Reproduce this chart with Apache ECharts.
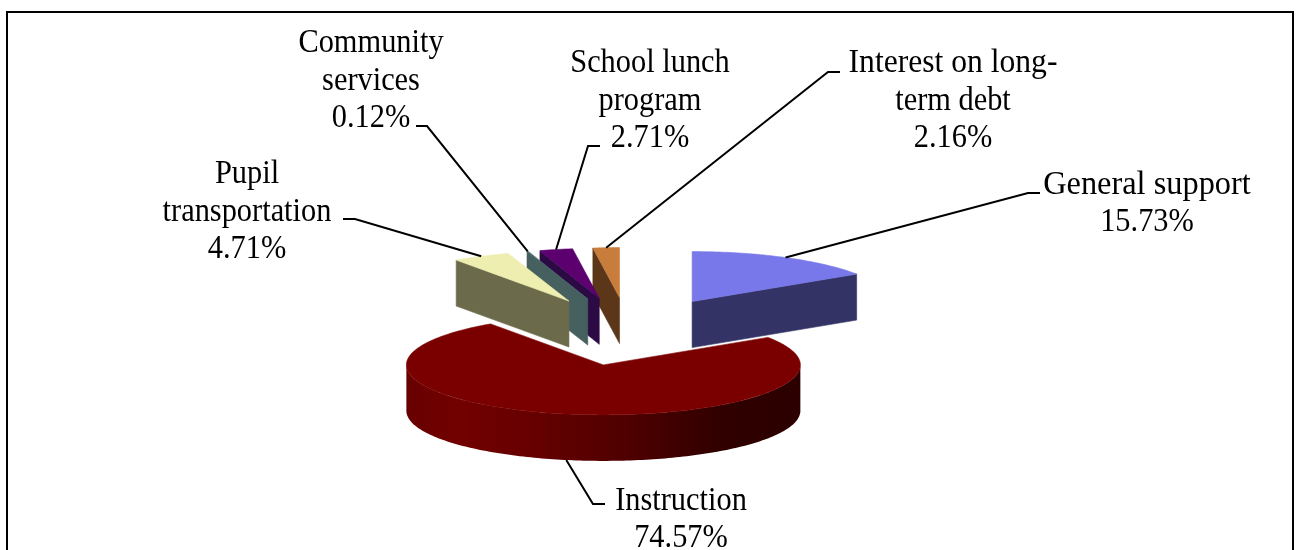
<!DOCTYPE html>
<html><head><meta charset="utf-8">
<style>html,body{margin:0;padding:0;background:#fff}#c{width:1299px;height:550px}</style>
<script src="https://cdn.jsdelivr.net/npm/echarts@6/dist/echarts.min.js"></script>
</head><body><div id="c"></div>
<script>
// ---- data (clockwise from 12 o'clock) ----
const categories = ['General support','Instruction','Pupil transportation','Community services','School lunch program','Interest on long-term debt'];
const shares = [15.73, 74.57, 4.71, 0.12, 2.71, 2.16];
const labelLines = [
  ['General support','15.73%'],
  ['Instruction','74.57%'],
  ['Pupil','transportation','4.71%'],
  ['Community','services','0.12%'],
  ['School lunch','program','2.71%'],
  ['Interest on long-','term debt','2.16%']
];
// ---- styles ----
const topColors  = ['#7878ea','#7a0000','#eeeeb0','#4a6a6a','#5c0070','#c87d3c'];
const sideColors = ['#333366','#6e0000','#6b6b4b','#466060','#2c0a44','#5c3618'];
const paintOrder = [0,5,4,3,2,1];          // back to front
// ---- layout ----
const CX=628.6, CY=331.5, RX=197, RY=50, DEPTH=46, EXPLODE=0.68;
const labelPos = [[1147,203],[681,519],[247,211],[371,80],[650,100],[953,100]];
const labelStretch = {'General support':1.065,'Interest on long-':1.04};
const leaderElbow = [[[1028,193],[1040,193]],[[593,504],[605,504]],[[355,219],[343,219]],[[427,126],[416,126]],[[588,146],[600,146]],[[828,72],[840,72]]];

const total = shares.reduce((a,b)=>a+b,0);
let acc = 0;
const slices = shares.map(v=>{const s=acc/total*2*Math.PI; acc+=v; return {s,e:acc/total*2*Math.PI};});
const proj=(c,t,r=1)=>[c[0]+RX*r*Math.sin(t), c[1]-RY*r*Math.cos(t)];
const down=p=>[p[0],p[1]+DEPTH];
function arc(c,a,b){const n=Math.max(2,Math.ceil((b-a)/0.02));const o=[];for(let i=0;i<=n;i++)o.push(proj(c,a+(b-a)*i/n));return o;}

function renderSlice(params,api){
  const i=api.value(2), z=paintOrder.indexOf(i)*10+1, {s,e}=slices[i], m=(s+e)/2;
  const apex=proj([CX,CY],m,EXPLODE), kids=[];
  const poly=(points,fill,dz)=>kids.push({type:'polygon',z2:z+dz,shape:{points},style:{fill,stroke:fill,lineWidth:0.6}});
  if(Math.sin(s)<0){const p=proj(apex,s);poly([apex,p,down(p),down(apex)],sideColors[i],0);}
  if(Math.sin(e)>0){const p=proj(apex,e);poly([apex,p,down(p),down(apex)],sideColors[i],0);}
  const a=Math.max(s,Math.PI/2), b=Math.min(e,3*Math.PI/2);
  if(b>a){
    const top=arc(apex,a,b);
    kids.push({type:'polygon',z2:z+1,shape:{points:top.concat(top.slice().reverse().map(down))},
      style:{fill:new echarts.graphic.LinearGradient(0,0,1,0,[
        {offset:0,color:'#680000'},{offset:0.13,color:'#720000'},{offset:0.3,color:'#680000'},
        {offset:0.55,color:'#500000'},{offset:0.8,color:'#300000'},{offset:1,color:'#2c0000'}])}});
  }
  poly([apex].concat(arc(apex,s,e)),topColors[i],2);
  // leader line from the middle of the outer edge to the label
  const visibleFront=Math.cos(m)<0, start=visibleFront?down(proj(apex,m)):proj(apex,m);
  kids.push({type:'polyline',z2:100,shape:{points:[start].concat(leaderElbow[i])},style:{fill:null,stroke:'#000',lineWidth:2}});
  labelLines[i].forEach((t,j)=>{
    const n=labelLines[i].length,lh=37.3;
    kids.push({type:'text',z2:101,x:labelPos[i][0],y:labelPos[i][1]+(j-(n-1)/2)*lh+1,
      scaleX:labelStretch[t]||1,scaleY:1.09,
      style:{text:t,x:0,y:0,align:'center',verticalAlign:'middle',fontFamily:'"Liberation Serif","Times New Roman",serif',fontSize:30.4,fill:'#000'}});
  });
  return {type:'group',children:kids};
}

const chart=echarts.init(document.getElementById('c'),null,{renderer:'canvas',width:1299,height:550});
chart.setOption({
  animation:false,
  backgroundColor:'#fff',
  graphic:[{type:'rect',z:-1,shape:{x:7,y:12,width:1286,height:560},style:{fill:'#fff',stroke:'#000',lineWidth:2}}],
  series:[{type:'custom',coordinateSystem:'none',renderItem:renderSlice,
    encode:{itemName:0,value:1},
    data:categories.map((c,i)=>[c,shares[i],i])}]
});
</script></body></html>
